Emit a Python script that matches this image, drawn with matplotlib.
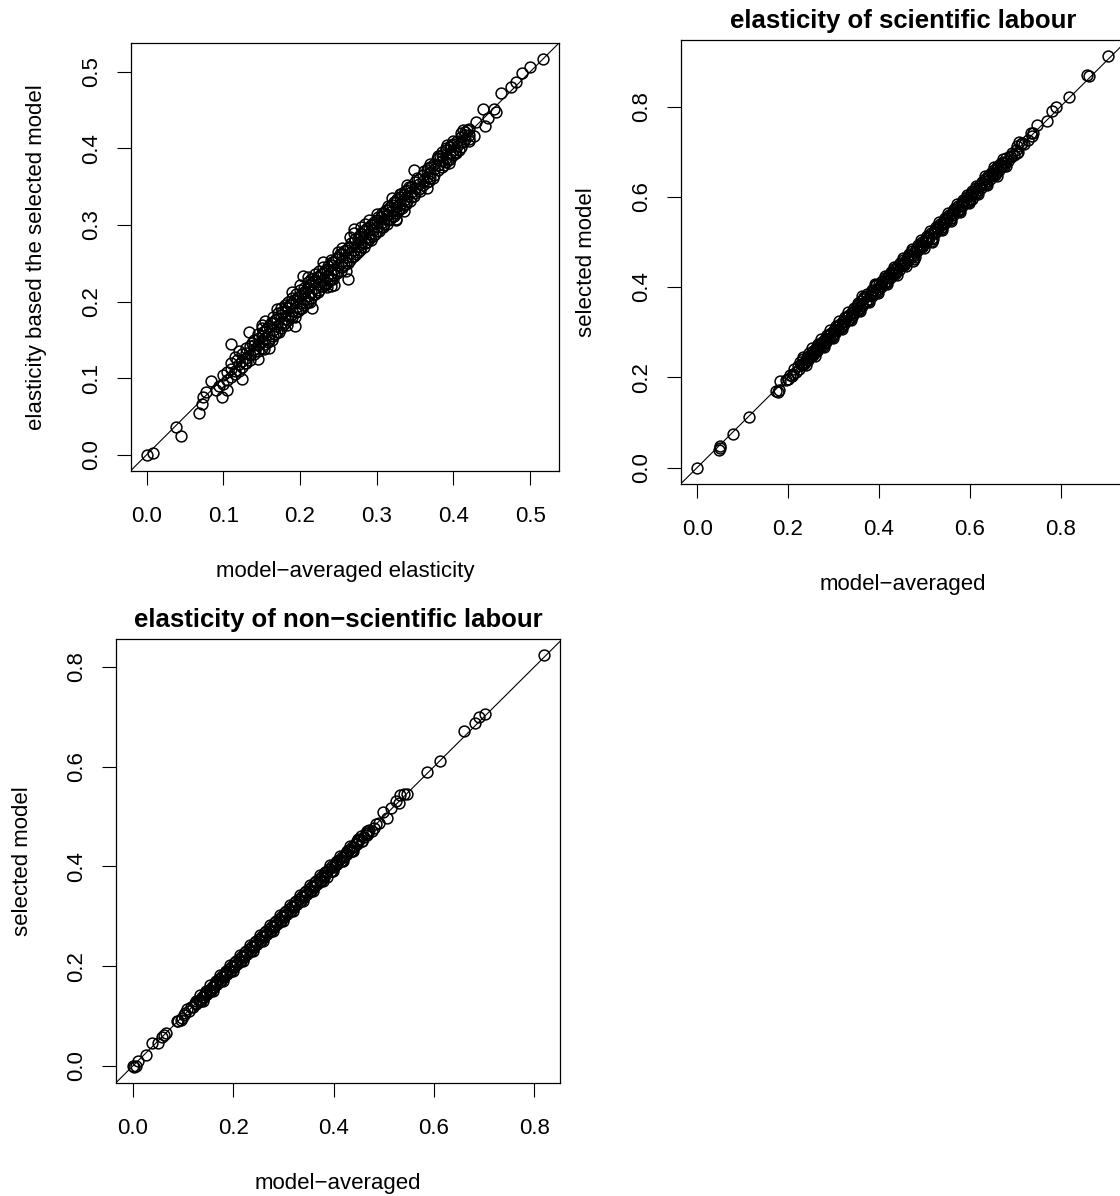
import numpy as np
import matplotlib
matplotlib.use("Agg")
from matplotlib import pyplot as plt
from matplotlib.transforms import offset_copy

plt.rcParams["font.family"] = ["Liberation Sans", "DejaVu Sans"]

# model-averaged vs selected-model elasticities
elasticity_pts = [
    (0.000, 0.000), (0.008, 0.002), (0.039, 0.037), (0.045, 0.024),
    (0.069, 0.055), (0.072, 0.067), (0.073, 0.075), (0.078, 0.082),
    (0.084, 0.097), (0.090, 0.085), (0.094, 0.090), (0.098, 0.075),
    (0.105, 0.085), (0.124, 0.099), (0.110, 0.145), (0.134, 0.160),
    (0.100, 0.104), (0.100, 0.093), (0.105, 0.098), (0.105, 0.108),
    (0.110, 0.112), (0.110, 0.102), (0.110, 0.120), (0.115, 0.110),
    (0.115, 0.128), (0.115, 0.105), (0.120, 0.118), (0.120, 0.135),
    (0.120, 0.109), (0.125, 0.122), (0.125, 0.132), (0.125, 0.115),
    (0.130, 0.126), (0.130, 0.140), (0.130, 0.120), (0.130, 0.133),
    (0.135, 0.130), (0.135, 0.142), (0.135, 0.124), (0.140, 0.138),
    (0.140, 0.150), (0.140, 0.132), (0.140, 0.144), (0.145, 0.143),
    (0.145, 0.158), (0.145, 0.135), (0.145, 0.125), (0.150, 0.148),
    (0.150, 0.165), (0.150, 0.140), (0.150, 0.155), (0.150, 0.170),
    (0.155, 0.152), (0.155, 0.162), (0.155, 0.145), (0.155, 0.175),
    (0.160, 0.158), (0.160, 0.168), (0.160, 0.150), (0.160, 0.140),
    (0.165, 0.163), (0.165, 0.172), (0.165, 0.155), (0.165, 0.180),
    (0.170, 0.168), (0.170, 0.178), (0.170, 0.160), (0.170, 0.190),
    (0.175, 0.172), (0.175, 0.182), (0.175, 0.165), (0.175, 0.192),
    (0.180, 0.178), (0.180, 0.188), (0.180, 0.172), (0.180, 0.196),
    (0.185, 0.183), (0.185, 0.192), (0.185, 0.176), (0.185, 0.200),
    (0.190, 0.188), (0.190, 0.198), (0.190, 0.180), (0.190, 0.205),
    (0.190, 0.212), (0.194, 0.168), (0.195, 0.193), (0.195, 0.202),
    (0.195, 0.186), (0.195, 0.210), (0.200, 0.198), (0.200, 0.208),
    (0.200, 0.190), (0.200, 0.215), (0.200, 0.222), (0.204, 0.233),
    (0.205, 0.203), (0.205, 0.212), (0.205, 0.196), (0.205, 0.218),
    (0.210, 0.208), (0.210, 0.218), (0.210, 0.200), (0.210, 0.226),
    (0.210, 0.232), (0.215, 0.213), (0.215, 0.222), (0.215, 0.205),
    (0.215, 0.230), (0.216, 0.192), (0.220, 0.218), (0.220, 0.228),
    (0.220, 0.210), (0.220, 0.236), (0.225, 0.223), (0.225, 0.232),
    (0.225, 0.215), (0.225, 0.240), (0.230, 0.228), (0.230, 0.238),
    (0.230, 0.220), (0.230, 0.245), (0.230, 0.252), (0.235, 0.233),
    (0.235, 0.242), (0.235, 0.225), (0.235, 0.219), (0.240, 0.238),
    (0.240, 0.248), (0.240, 0.230), (0.240, 0.255), (0.240, 0.220),
    (0.245, 0.243), (0.245, 0.252), (0.245, 0.235), (0.245, 0.222),
    (0.250, 0.248), (0.250, 0.258), (0.250, 0.240), (0.250, 0.265),
    (0.255, 0.253), (0.255, 0.262), (0.255, 0.245), (0.255, 0.270),
    (0.260, 0.258), (0.260, 0.268), (0.260, 0.250), (0.260, 0.240),
    (0.262, 0.230), (0.265, 0.263), (0.265, 0.272), (0.265, 0.255),
    (0.265, 0.285), (0.270, 0.268), (0.270, 0.278), (0.270, 0.260),
    (0.270, 0.290), (0.270, 0.295), (0.275, 0.273), (0.275, 0.282),
    (0.275, 0.265), (0.280, 0.278), (0.280, 0.288), (0.280, 0.272),
    (0.280, 0.298), (0.280, 0.275), (0.285, 0.283), (0.285, 0.292),
    (0.285, 0.276), (0.285, 0.302), (0.290, 0.288), (0.290, 0.298),
    (0.290, 0.282), (0.290, 0.306), (0.290, 0.284), (0.295, 0.293),
    (0.295, 0.302), (0.295, 0.286), (0.300, 0.298), (0.300, 0.306),
    (0.300, 0.292), (0.300, 0.314), (0.305, 0.303), (0.305, 0.310),
    (0.305, 0.297), (0.310, 0.308), (0.310, 0.316), (0.310, 0.302),
    (0.315, 0.313), (0.315, 0.320), (0.315, 0.307), (0.315, 0.325),
    (0.320, 0.318), (0.320, 0.326), (0.320, 0.312), (0.320, 0.335),
    (0.325, 0.323), (0.325, 0.330), (0.325, 0.316), (0.325, 0.306),
    (0.325, 0.308), (0.330, 0.328), (0.330, 0.336), (0.330, 0.322),
    (0.330, 0.341), (0.335, 0.333), (0.335, 0.340), (0.335, 0.326),
    (0.335, 0.318), (0.340, 0.338), (0.340, 0.346), (0.340, 0.331),
    (0.340, 0.352), (0.345, 0.343), (0.345, 0.350), (0.345, 0.336),
    (0.349, 0.372), (0.350, 0.348), (0.350, 0.356), (0.350, 0.342),
    (0.355, 0.353), (0.355, 0.360), (0.355, 0.347), (0.360, 0.358),
    (0.360, 0.366), (0.360, 0.352), (0.365, 0.363), (0.365, 0.372),
    (0.365, 0.356), (0.365, 0.348), (0.370, 0.368), (0.370, 0.376),
    (0.370, 0.362), (0.370, 0.380), (0.375, 0.373), (0.375, 0.380),
    (0.375, 0.366), (0.380, 0.378), (0.380, 0.388), (0.380, 0.372),
    (0.380, 0.390), (0.385, 0.383), (0.385, 0.392), (0.385, 0.376),
    (0.385, 0.396), (0.390, 0.388), (0.390, 0.398), (0.390, 0.382),
    (0.390, 0.400), (0.394, 0.381), (0.395, 0.393), (0.395, 0.402),
    (0.395, 0.386), (0.400, 0.398), (0.400, 0.406), (0.400, 0.392),
    (0.400, 0.410), (0.405, 0.403), (0.405, 0.410), (0.407, 0.398),
    (0.410, 0.408), (0.410, 0.415), (0.410, 0.402), (0.410, 0.420),
    (0.412, 0.424), (0.415, 0.413), (0.415, 0.422), (0.415, 0.418),
    (0.420, 0.418), (0.420, 0.426), (0.420, 0.410), (0.420, 0.412),
    (0.427, 0.416), (0.430, 0.434), (0.438, 0.452), (0.441, 0.429),
    (0.445, 0.440), (0.453, 0.452), (0.455, 0.448), (0.462, 0.472),
    (0.475, 0.480), (0.481, 0.487), (0.489, 0.498), (0.500, 0.506),
    (0.517, 0.517),
    (0.118, 0.124), (0.128, 0.120), (0.138, 0.146), (0.142, 0.136),
    (0.152, 0.160), (0.158, 0.147), (0.162, 0.172), (0.168, 0.158),
    (0.172, 0.185), (0.178, 0.170), (0.182, 0.193), (0.188, 0.182),
    (0.192, 0.202), (0.198, 0.188), (0.202, 0.210), (0.208, 0.198),
    (0.212, 0.222), (0.218, 0.210), (0.222, 0.232), (0.228, 0.220),
    (0.232, 0.240), (0.238, 0.228), (0.242, 0.252), (0.248, 0.238),
    (0.252, 0.262), (0.258, 0.248), (0.262, 0.270), (0.268, 0.258),
    (0.272, 0.282), (0.278, 0.268), (0.282, 0.292), (0.288, 0.278),
    (0.292, 0.300), (0.298, 0.288), (0.302, 0.310), (0.308, 0.298),
    (0.312, 0.320), (0.318, 0.308), (0.322, 0.330), (0.328, 0.318),
    (0.332, 0.340), (0.338, 0.328), (0.342, 0.350), (0.348, 0.338),
    (0.362, 0.370), (0.368, 0.358), (0.378, 0.386), (0.388, 0.378),
    (0.392, 0.404), (0.402, 0.396),
    (0.147, 0.152), (0.153, 0.138), (0.157, 0.166), (0.163, 0.150),
    (0.167, 0.176), (0.173, 0.160), (0.177, 0.186), (0.183, 0.170),
    (0.187, 0.196), (0.193, 0.180), (0.197, 0.206), (0.203, 0.192),
    (0.207, 0.214), (0.213, 0.200), (0.217, 0.226), (0.223, 0.212),
    (0.227, 0.236), (0.233, 0.222), (0.237, 0.246), (0.243, 0.230),
    (0.247, 0.256), (0.253, 0.240), (0.257, 0.266), (0.263, 0.250),
    (0.267, 0.276), (0.273, 0.262), (0.277, 0.286), (0.283, 0.272),
    (0.287, 0.296), (0.293, 0.280), (0.297, 0.304), (0.303, 0.292),
    (0.307, 0.316), (0.313, 0.302), (0.317, 0.324), (0.323, 0.312),
    (0.327, 0.334), (0.333, 0.322), (0.337, 0.344), (0.343, 0.332),
    (0.353, 0.362), (0.357, 0.344), (0.367, 0.374), (0.373, 0.362),
    (0.383, 0.390), (0.393, 0.385), (0.397, 0.404), (0.403, 0.394),
    (0.413, 0.408), (0.418, 0.424),
]

scientific_pts = [
    (0.000, 0.000), (0.048, 0.039), (0.050, 0.044), (0.051, 0.048),
    (0.079, 0.074), (0.114, 0.112), (0.174, 0.170), (0.178, 0.168),
    (0.180, 0.172), (0.183, 0.192), (0.195, 0.194), (0.199, 0.197),
    (0.201, 0.197), (0.204, 0.206), (0.208, 0.203), (0.211, 0.208),
    (0.214, 0.218), (0.218, 0.212), (0.221, 0.225), (0.224, 0.219),
    (0.228, 0.230), (0.231, 0.228), (0.234, 0.240), (0.238, 0.235),
    (0.241, 0.245), (0.244, 0.238), (0.248, 0.250), (0.251, 0.249),
    (0.254, 0.258), (0.258, 0.254), (0.261, 0.265), (0.264, 0.259),
    (0.268, 0.271), (0.271, 0.268), (0.274, 0.279), (0.278, 0.274),
    (0.281, 0.285), (0.284, 0.279), (0.288, 0.291), (0.291, 0.288),
    (0.294, 0.299), (0.298, 0.294), (0.301, 0.305), (0.304, 0.299),
    (0.308, 0.311), (0.311, 0.308), (0.314, 0.319), (0.318, 0.314),
    (0.321, 0.325), (0.324, 0.319), (0.328, 0.331), (0.331, 0.328),
    (0.334, 0.339), (0.338, 0.334), (0.341, 0.345), (0.344, 0.339),
    (0.348, 0.352), (0.351, 0.349), (0.354, 0.360), (0.358, 0.353),
    (0.361, 0.368), (0.364, 0.359), (0.368, 0.377), (0.371, 0.369),
    (0.374, 0.380), (0.378, 0.374), (0.381, 0.385), (0.384, 0.380),
    (0.388, 0.392), (0.391, 0.389), (0.394, 0.405), (0.398, 0.396),
    (0.401, 0.406), (0.404, 0.400), (0.408, 0.411), (0.411, 0.408),
    (0.414, 0.419), (0.418, 0.414), (0.421, 0.425), (0.424, 0.419),
    (0.428, 0.431), (0.431, 0.428), (0.434, 0.439), (0.438, 0.434),
    (0.441, 0.445), (0.444, 0.438), (0.448, 0.451), (0.451, 0.449),
    (0.454, 0.460), (0.458, 0.454), (0.461, 0.465), (0.464, 0.459),
    (0.468, 0.471), (0.471, 0.468), (0.474, 0.479), (0.478, 0.462),
    (0.481, 0.485), (0.484, 0.479), (0.488, 0.491), (0.491, 0.488),
    (0.494, 0.499), (0.498, 0.494), (0.501, 0.505), (0.504, 0.499),
    (0.508, 0.511), (0.511, 0.508), (0.514, 0.519), (0.518, 0.502),
    (0.521, 0.525), (0.524, 0.519), (0.528, 0.531), (0.531, 0.528),
    (0.534, 0.539), (0.538, 0.534), (0.541, 0.545), (0.544, 0.539),
    (0.548, 0.551), (0.551, 0.549), (0.554, 0.560), (0.558, 0.554),
    (0.561, 0.565), (0.564, 0.559), (0.568, 0.571), (0.571, 0.568),
    (0.574, 0.579), (0.578, 0.574), (0.581, 0.585), (0.584, 0.579),
    (0.588, 0.591), (0.591, 0.588), (0.594, 0.599), (0.598, 0.594),
    (0.601, 0.605), (0.604, 0.596), (0.608, 0.611), (0.611, 0.608),
    (0.614, 0.619), (0.618, 0.614), (0.621, 0.625), (0.624, 0.619),
    (0.628, 0.631), (0.631, 0.628), (0.634, 0.639), (0.638, 0.634),
    (0.641, 0.645), (0.644, 0.639), (0.648, 0.651), (0.651, 0.649),
    (0.654, 0.660), (0.658, 0.652), (0.661, 0.665), (0.664, 0.659),
    (0.668, 0.671), (0.671, 0.668), (0.674, 0.678), (0.678, 0.674),
    (0.681, 0.685), (0.684, 0.679), (0.688, 0.690), (0.691, 0.688),
    (0.694, 0.697), (0.698, 0.693), (0.701, 0.704), (0.704, 0.698),
    (0.707, 0.699), (0.709, 0.721), (0.712, 0.716), (0.729, 0.726),
    (0.736, 0.741), (0.738, 0.735), (0.748, 0.758), (0.771, 0.769),
    (0.782, 0.791), (0.790, 0.800), (0.819, 0.822), (0.859, 0.870),
    (0.863, 0.867), (0.905, 0.911),
    (0.226, 0.233), (0.236, 0.229), (0.246, 0.253), (0.256, 0.249),
    (0.266, 0.273), (0.276, 0.269), (0.286, 0.293), (0.296, 0.289),
    (0.306, 0.313), (0.316, 0.309), (0.326, 0.333), (0.336, 0.329),
    (0.346, 0.353), (0.356, 0.349), (0.366, 0.373), (0.376, 0.369),
    (0.386, 0.393), (0.396, 0.389), (0.406, 0.413), (0.416, 0.409),
    (0.426, 0.433), (0.436, 0.429), (0.446, 0.453), (0.456, 0.449),
    (0.466, 0.473), (0.476, 0.469), (0.486, 0.493), (0.496, 0.489),
    (0.506, 0.513), (0.516, 0.509), (0.526, 0.533), (0.536, 0.529),
    (0.546, 0.553), (0.556, 0.549), (0.566, 0.573), (0.576, 0.569),
    (0.586, 0.593), (0.596, 0.589), (0.606, 0.613), (0.616, 0.609),
    (0.626, 0.633), (0.636, 0.629), (0.646, 0.653), (0.656, 0.649),
    (0.666, 0.673), (0.676, 0.669), (0.362, 0.380), (0.392, 0.407),
    (0.475, 0.458), (0.517, 0.500), (0.600, 0.592), (0.705, 0.712),
    (0.715, 0.720), (0.720, 0.718), (0.740, 0.742),
    (0.233, 0.245), (0.239, 0.227), (0.253, 0.265), (0.259, 0.247),
    (0.273, 0.285), (0.279, 0.267), (0.293, 0.305), (0.299, 0.287),
    (0.313, 0.325), (0.319, 0.307), (0.333, 0.345), (0.339, 0.327),
    (0.353, 0.365), (0.359, 0.347), (0.373, 0.385), (0.379, 0.367),
    (0.393, 0.405), (0.399, 0.387), (0.413, 0.425), (0.419, 0.407),
    (0.433, 0.445), (0.439, 0.427), (0.453, 0.465), (0.459, 0.447),
    (0.473, 0.485), (0.479, 0.467), (0.493, 0.505), (0.499, 0.487),
    (0.513, 0.525), (0.519, 0.507), (0.533, 0.545), (0.539, 0.527),
    (0.553, 0.565), (0.559, 0.547), (0.573, 0.585), (0.579, 0.567),
    (0.593, 0.605), (0.599, 0.587), (0.613, 0.625), (0.619, 0.607),
    (0.633, 0.645), (0.639, 0.627), (0.653, 0.665), (0.659, 0.647),
    (0.673, 0.683), (0.679, 0.668),
    (0.243, 0.243), (0.263, 0.263), (0.283, 0.283), (0.303, 0.303),
    (0.323, 0.323), (0.343, 0.343), (0.363, 0.363), (0.383, 0.383),
    (0.403, 0.403), (0.423, 0.423), (0.443, 0.443), (0.463, 0.463),
    (0.483, 0.483), (0.503, 0.503), (0.523, 0.523), (0.543, 0.543),
    (0.563, 0.563), (0.583, 0.583), (0.603, 0.603), (0.623, 0.623),
    (0.643, 0.643), (0.663, 0.663),
]

nonscientific_pts = [
    (0.000, 0.000), (0.003, -0.001), (0.006, 0.001), (0.010, 0.011),
    (0.027, 0.023), (0.039, 0.047), (0.050, 0.047), (0.059, 0.059),
    (0.062, 0.062), (0.066, 0.066), (0.088, 0.090), (0.091, 0.091),
    (0.096, 0.093), (0.098, 0.097), (0.103, 0.102), (0.105, 0.106),
    (0.109, 0.114), (0.112, 0.110), (0.116, 0.118),
    (0.121, 0.119), (0.124, 0.127), (0.127, 0.125), (0.131, 0.133),
    (0.134, 0.131), (0.137, 0.139), (0.141, 0.139), (0.144, 0.147),
    (0.147, 0.145), (0.151, 0.153), (0.154, 0.150), (0.157, 0.159),
    (0.161, 0.158), (0.164, 0.167), (0.167, 0.165), (0.171, 0.174),
    (0.174, 0.171), (0.177, 0.180), (0.181, 0.179), (0.184, 0.187),
    (0.187, 0.185), (0.191, 0.194), (0.194, 0.191), (0.197, 0.200),
    (0.201, 0.199), (0.204, 0.208), (0.207, 0.205), (0.211, 0.215),
    (0.214, 0.211), (0.217, 0.220), (0.221, 0.219), (0.224, 0.228),
    (0.227, 0.224), (0.231, 0.235), (0.234, 0.231), (0.237, 0.240),
    (0.241, 0.239), (0.244, 0.248), (0.247, 0.245), (0.251, 0.254),
    (0.254, 0.251), (0.257, 0.260), (0.261, 0.259), (0.264, 0.268),
    (0.267, 0.265), (0.271, 0.274), (0.274, 0.271), (0.277, 0.280),
    (0.281, 0.279), (0.284, 0.288), (0.287, 0.285), (0.291, 0.294),
    (0.294, 0.291), (0.297, 0.300), (0.301, 0.299), (0.304, 0.308),
    (0.307, 0.305), (0.311, 0.314), (0.314, 0.311), (0.317, 0.320),
    (0.321, 0.319), (0.324, 0.328), (0.327, 0.325), (0.331, 0.334),
    (0.334, 0.331), (0.337, 0.340), (0.341, 0.339), (0.344, 0.348),
    (0.347, 0.345), (0.351, 0.354), (0.354, 0.351), (0.357, 0.360),
    (0.361, 0.359), (0.364, 0.368), (0.367, 0.365), (0.371, 0.374),
    (0.374, 0.371), (0.377, 0.380), (0.381, 0.379), (0.384, 0.388),
    (0.387, 0.378), (0.391, 0.394), (0.394, 0.391), (0.397, 0.400),
    (0.401, 0.399), (0.404, 0.408), (0.407, 0.405), (0.411, 0.414),
    (0.414, 0.411), (0.417, 0.420), (0.421, 0.419), (0.424, 0.428),
    (0.427, 0.425), (0.431, 0.434), (0.434, 0.431), (0.437, 0.440),
    (0.441, 0.439), (0.444, 0.448), (0.447, 0.445), (0.451, 0.454),
    (0.454, 0.462), (0.457, 0.452), (0.461, 0.459), (0.464, 0.467),
    (0.467, 0.471), (0.471, 0.474), (0.476, 0.471),
    (0.484, 0.486), (0.490, 0.488), (0.499, 0.510), (0.507, 0.498),
    (0.514, 0.517), (0.525, 0.532), (0.530, 0.528), (0.533, 0.543),
    (0.540, 0.546), (0.546, 0.546), (0.587, 0.589), (0.612, 0.611),
    (0.659, 0.671), (0.681, 0.688), (0.689, 0.700), (0.702, 0.706),
    (0.819, 0.823),
    (0.126, 0.131), (0.136, 0.131), (0.146, 0.151), (0.156, 0.151),
    (0.166, 0.171), (0.176, 0.171), (0.186, 0.191), (0.196, 0.191),
    (0.206, 0.211), (0.216, 0.211), (0.226, 0.231), (0.236, 0.231),
    (0.246, 0.251), (0.256, 0.251), (0.266, 0.271), (0.276, 0.271),
    (0.286, 0.291), (0.296, 0.291), (0.306, 0.311), (0.316, 0.311),
    (0.326, 0.331), (0.336, 0.331), (0.346, 0.351), (0.356, 0.351),
    (0.366, 0.371), (0.376, 0.371), (0.386, 0.391), (0.396, 0.391),
    (0.406, 0.411), (0.416, 0.411), (0.426, 0.431), (0.436, 0.431),
    (0.446, 0.451), (0.456, 0.451), (0.466, 0.463), (0.480, 0.478),
    (0.133, 0.142), (0.139, 0.131), (0.153, 0.162), (0.159, 0.151),
    (0.173, 0.182), (0.179, 0.171), (0.193, 0.202), (0.199, 0.191),
    (0.213, 0.222), (0.219, 0.211), (0.233, 0.242), (0.239, 0.231),
    (0.253, 0.262), (0.259, 0.251), (0.273, 0.282), (0.279, 0.271),
    (0.293, 0.302), (0.299, 0.291), (0.313, 0.322), (0.319, 0.311),
    (0.333, 0.342), (0.339, 0.331), (0.353, 0.362), (0.359, 0.351),
    (0.373, 0.382), (0.379, 0.371), (0.393, 0.402), (0.399, 0.391),
    (0.413, 0.422), (0.419, 0.411), (0.433, 0.442), (0.439, 0.431),
    (0.449, 0.455), (0.469, 0.467),
    (0.143, 0.143), (0.163, 0.163), (0.183, 0.183), (0.203, 0.203),
    (0.223, 0.223), (0.243, 0.243), (0.263, 0.263), (0.283, 0.283),
    (0.303, 0.303), (0.323, 0.323), (0.343, 0.343), (0.363, 0.363),
    (0.383, 0.383), (0.403, 0.403), (0.423, 0.423),
]

ticks_05 = [0.0, 0.1, 0.2, 0.3, 0.4, 0.5]
ticks_08 = [0.0, 0.2, 0.4, 0.6, 0.8]

W, H = 1120, 1196


def r_limits(v):
    # base R style: data range padded by 4% each side
    lo, hi = np.min(v), np.max(v)
    pad = 0.04 * (hi - lo)
    return lo - pad, hi + pad


def rect(left, top, w, h):
    return [left / W, 1 - (top + h) / H, w / W, h / H]


def panel(fig, box, pts, ticks, xlabel, ylabel, title=None):
    ax = fig.add_axes(box)
    x, y = np.array(pts).T
    ax.plot(x, y, linestyle="none", marker="o", ms=7.8,
            mfc="none", mec="black", mew=1.1)
    ax.axline((0, 0), slope=1, color="black", lw=0.8)
    ax.set_xlim(r_limits(x))
    ax.set_ylim(r_limits(y))

    labels = [f"{t:.1f}" for t in ticks]
    ax.set_xticks(ticks)
    ax.set_xticklabels(labels)
    ax.set_yticks(ticks)
    ax.set_yticklabels(labels, rotation=90, va="center", ha="right")
    ax.tick_params(length=10.3, width=0.8, labelsize=16, direction="out")
    ax.tick_params(axis="x", pad=15)
    ax.tick_params(axis="y", pad=10.4)
    for s in ax.spines.values():
        s.set_linewidth(0.9)

    ax.text(0.5, 0, xlabel, fontsize=16, ha="center", va="baseline",
            transform=offset_copy(ax.transAxes, fig, y=-106, units="dots"))
    ax.text(0, 0.5, ylabel, fontsize=16, rotation=90, ha="center", va="center",
            transform=offset_copy(ax.transAxes, fig, x=-94, units="dots"))
    if title:
        ax.text(0.5, 1, title, fontsize=18.5, fontweight="bold",
                ha="center", va="baseline",
                transform=offset_copy(ax.transAxes, fig, y=12, units="dots"))
    return ax


fig = plt.figure(figsize=(W / 100, H / 100), dpi=100)

panel(fig, rect(130.7, 43, 428.3, 427.7), elasticity_pts, ticks_05,
      "model\u2212averaged elasticity", "elasticity based the selected model")
panel(fig, rect(680.7, 40, 444, 444), scientific_pts, ticks_08,
      "model\u2212averaged", "selected model",
      title="elasticity of scientific labour")
panel(fig, rect(116.3, 639, 444, 444), nonscientific_pts, ticks_08,
      "model\u2212averaged", "selected model",
      title="elasticity of non\u2212scientific labour")

fig.savefig("out.png", dpi=100)
